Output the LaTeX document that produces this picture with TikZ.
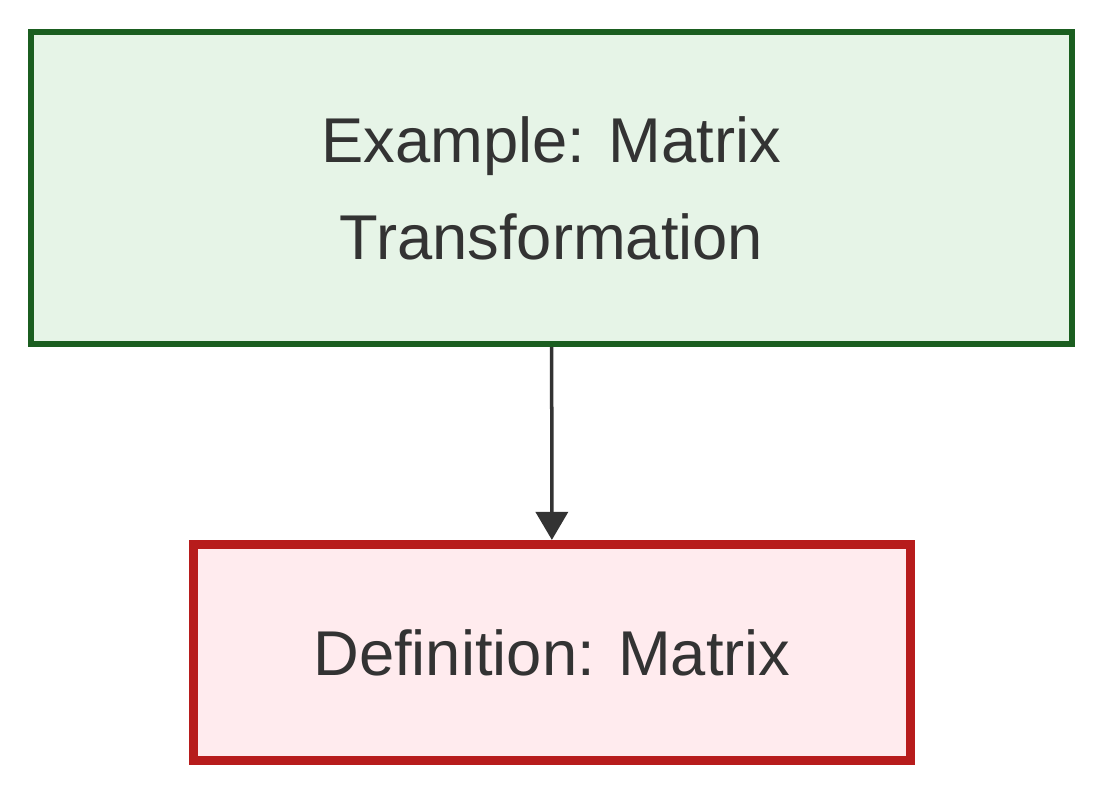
\documentclass[tikz,border=0pt]{standalone}
\usepackage{fontspec}
\setmainfont{Liberation Sans}
\usepackage{tikz}
\usetikzlibrary{positioning}
\usetikzlibrary{arrows.meta}

\definecolor{exfill}{HTML}{E6F4E7}
\definecolor{exline}{HTML}{1B5E20}
\definecolor{deffill}{HTML}{FFEBEE}
\definecolor{defline}{HTML}{B71C1C}
\definecolor{txt}{HTML}{333333}

\tikzset{
  box/.style={rectangle, draw, text=txt, align=center,
    font=\fontsize{18}{27.6}\selectfont},
  exbox/.style={box, fill=exfill, draw=exline, line width=0.06cm,
    minimum width=10.41cm, minimum height=3.12cm},
  defbox/.style={box, fill=deffill, draw=defline, line width=0.09cm,
    minimum width=7.17cm, minimum height=2.16cm},
  link/.style={draw=txt, line width=0.035cm,
    -{Triangle[length=0.28cm,width=0.32cm]}}
}

\begin{document}
\begin{tikzpicture}[x=0.01cm, y=-0.01cm]
				\useasboundingbox (0,0) rectangle (1104,792);
				\node[exbox] (ex) at (551.5,188) {Example: Matrix\\ Transformation};
				\node[defbox] (def) at (552,652.5) {Definition: Matrix};
				
				\draw[link] (ex) -- (def);
			\end{tikzpicture}
\end{document}
